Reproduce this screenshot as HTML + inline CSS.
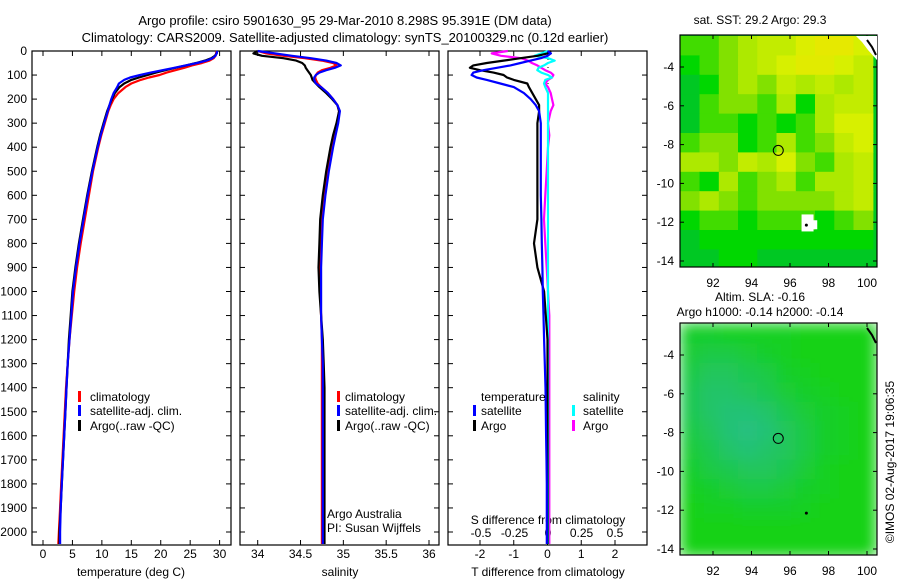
<!DOCTYPE html>
<html><head><meta charset="utf-8"><style>
body{margin:0;background:#fff;}
svg{display:block;font-family:"Liberation Sans",sans-serif;}
</style></head><body>
<svg id="c" width="900" height="580" viewBox="0 0 900 580">
<defs>
<clipPath id="cm1"><rect x="680" y="35" width="197" height="232"/></clipPath>
<clipPath id="cm2"><rect x="680" y="323" width="197" height="232"/></clipPath>
<filter id="bl" x="0" y="0" width="1" height="1"><feGaussianBlur stdDeviation="7" edgeMode="duplicate"/></filter>
</defs>
<text x="345" y="25" font-size="13" text-anchor="middle">Argo profile: csiro 5901630_95 29-Mar-2010 8.298S 95.391E (DM data)</text>
<text x="345" y="42" font-size="13" text-anchor="middle">Climatology: CARS2009. Satellite-adjusted climatology: synTS_20100329.nc (0.12d earlier)</text>
<text x="760" y="24" font-size="12" text-anchor="middle">sat. SST: 29.2 Argo: 29.3</text>
<text x="760" y="301" font-size="12" text-anchor="middle">Altim. SLA: -0.16</text>
<text x="760" y="316" font-size="12" text-anchor="middle">Argo h1000: -0.14 h2000: -0.14</text>
<text transform="translate(894,462) rotate(-90)" font-size="12" text-anchor="middle">©IMOS 02-Aug-2017 19:06:35</text>
<g id="g"></g>
</svg>
<script>
const depths=[0,10,20,30,40,50,60,70,80,90,100,110,120,135,150,175,200,225,250,300,350,400,500,600,700,800,900,1000,1100,1200,1300,1400,1500,1600,1700,1800,1900,2000,2050];
const tempClim=[29.5,29.4,29.3,29.0,28.3,27.0,25.3,24.0,22.5,21.0,19.8,18.0,16.6,15.0,14.0,12.8,12.0,11.5,11.1,10.5,9.9,9.4,8.5,7.8,7.1,6.4,5.8,5.3,4.9,4.5,4.2,3.9,3.7,3.5,3.3,3.1,2.9,2.7,2.6];
const tempSat=[29.6,29.5,29.3,28.8,27.8,26.2,24.2,22.3,20.3,18.3,16.5,14.8,13.8,12.9,12.6,12.0,11.6,11.3,11.0,10.4,9.8,9.3,8.4,7.6,6.9,6.2,5.6,5.1,4.8,4.5,4.2,4.0,3.8,3.6,3.4,3.2,3.0,2.9,2.9];
const tempArgo=[29.6,29.5,29.2,28.6,27.5,26.0,24.3,22.5,20.8,19.2,17.8,16.3,15.0,13.8,13.0,12.2,11.7,11.3,10.9,10.3,9.7,9.2,8.3,7.5,6.8,6.1,5.5,5.0,4.7,4.4,4.2,4.0,3.8,3.6,3.4,3.2,3.0,2.8,2.8];
const salClim=[34.0,34.1,34.3,34.55,34.75,34.88,34.92,34.85,34.75,34.7,34.68,34.67,34.68,34.7,34.74,34.82,34.88,34.93,34.95,34.93,34.9,34.87,34.82,34.78,34.75,34.74,34.73,34.73,34.74,34.75,34.75,34.75,34.75,34.75,34.75,34.75,34.75,34.75,34.75];
const salSat=[34.0,34.2,34.4,34.62,34.8,34.92,34.97,34.9,34.8,34.72,34.68,34.66,34.66,34.68,34.74,34.82,34.88,34.93,34.96,34.94,34.91,34.88,34.83,34.79,34.76,34.75,34.74,34.74,34.74,34.75,34.76,34.76,34.76,34.76,34.76,34.76,34.76,34.76,34.76];
const salArgo=[34.0,33.95,34.05,34.3,34.45,34.52,34.55,34.56,34.58,34.6,34.62,34.63,34.64,34.68,34.72,34.8,34.87,34.93,34.95,34.92,34.88,34.85,34.8,34.76,34.73,34.72,34.71,34.72,34.74,34.76,34.77,34.78,34.78,34.78,34.78,34.78,34.78,34.78,34.78];
const tdiffSat=[0,0.1,0,-0.2,-0.5,-0.8,-1.1,-1.5,-1.9,-2.2,-2.25,-2.1,-1.8,-1.4,-1.0,-0.7,-0.5,-0.35,-0.25,-0.2,-0.2,-0.2,-0.2,-0.2,-0.18,-0.17,-0.15,-0.14,-0.12,-0.1,-0.08,-0.06,-0.05,-0.04,-0.03,-0.02,-0.02,-0.02,-0.02];
const tdiffArgo=[0.1,0,-0.3,-0.8,-1.3,-1.8,-2.2,-2.3,-2.0,-1.6,-1.3,-1.2,-1.0,-0.6,-0.55,-0.45,-0.35,-0.25,-0.25,-0.3,-0.3,-0.3,-0.3,-0.3,-0.3,-0.4,-0.3,-0.1,-0.05,0,0,0,0,0,0,0,0,0,0];
const sdiffSat=[0,-0.05,-0.1,0,0.05,0,-0.03,-0.07,-0.08,-0.05,0,0.03,-0.02,-0.03,-0.02,0,0,0,0,0,0,0,0,0,0,0,0,0,0,0,0,0,0,0,0,0,0,0,0];
const sdiffArgo=[-0.3,-0.42,-0.35,-0.2,-0.15,-0.12,-0.08,-0.05,-0.02,0.02,0.04,0.03,0,-0.02,0,0.02,0.03,0.04,0.02,0,0.01,0,-0.01,-0.02,-0.03,-0.02,-0.01,0,0.01,0.01,0.01,0.01,0.01,0.01,0.01,0.01,0.01,0.01,0.01];
const depthTicks=[0,100,200,300,400,500,600,700,800,900,1000,1100,1200,1300,1400,1500,1600,1700,1800,1900,2000];
const tempTicks=[0,5,10,15,20,25,30];
const salTicks=["34","34.5","35","35.5","36"];
const tdTicks=["-2","-1","0","1","2"];
const sdTicks=["-0.5","-0.25","0","0.25","0.5"];
const lonTicks=[92,94,96,98,100];
const latTicks=[-4,-6,-8,-10,-12,-14];
const sstGrid=[
[0.3,0.3,0.4,0.5,0.55,0.55,0.65,0.75,0.75,0.6],
[0.2,0.3,0.4,0.5,0.55,0.6,0.7,0.7,0.6,0.55],
[0.1,0.2,0.4,0.5,0.4,0.55,0.5,0.55,0.5,0.55],
[0.1,0.3,0.4,0.4,0.3,0.5,0.2,0.5,0.55,0.55],
[0.1,0.3,0.3,0.2,0.3,0.2,0.3,0.5,0.6,0.6],
[0.3,0.4,0.4,0.2,0.3,0.5,0.3,0.4,0.55,0.6],
[0.5,0.5,0.4,0.55,0.5,0.6,0.4,0.3,0.5,0.55],
[0.3,0.2,0.5,0.3,0.4,0.5,0.3,0.5,0.5,0.55],
[0.4,0.5,0.4,0.3,0.4,0.4,0.4,0.4,0.5,0.55],
[0.2,0.3,0.3,0.2,0.3,0.3,0.3,0.2,0.3,0.4],
[0.1,0.2,0.2,0.2,0.2,0.2,0.2,0.2,0.2,0.2],
[0.1,0.1,0.2,0.2,0.1,0.1,0.1,0.1,0.1,0.1]];
const slaGrid=[
[0.8,0.8,0.9,0.9,0.9,0.9,1,1,1,1],
[0.7,0.6,0.6,0.7,0.8,0.9,1,1,1,1],
[0.6,0.4,0.4,0.5,0.6,0.8,0.9,1,1,1],
[0.5,0.3,0.3,0.4,0.5,0.7,0.8,0.9,1,1],
[0.5,0.3,0.2,0.2,0.3,0.5,0.7,0.8,0.9,1],
[0.6,0.4,0.2,0.1,0.2,0.4,0.6,0.8,0.9,1],
[0.7,0.5,0.3,0.2,0.3,0.4,0.6,0.8,0.9,1],
[0.8,0.6,0.5,0.4,0.4,0.5,0.7,0.9,1,1],
[0.9,0.8,0.7,0.6,0.6,0.7,0.8,0.9,1,1],
[1,0.9,0.9,0.8,0.8,0.8,0.9,1,1,1],
[1,1,1,1,1,1,1,1,1,1],
[1,1,1,1,1,1,1,1,1,1]];
const argoLon=95.391, argoLat=-8.298;

const NS='http://www.w3.org/2000/svg';
const G=document.getElementById('g');
function el(t,a,p){const e=document.createElementNS(NS,t);for(const k in a)e.setAttribute(k,a[k]);(p||G).appendChild(e);return e;}
const yTop=51, yBot=545;
const yD=d=>yTop+d*0.2405;
function lin(d0,d1,r0,r1){return v=>r0+(v-d0)*(r1-r0)/(d1-d0);}
const xT=lin(0,30,43,219.6), xS=lin(34,36,257.7,429), xTD=lin(-2,2,480,615), xSD=lin(-0.5,0.5,481,615);

function panel(x0,x1,name){
  const r=el('rect',{x:x0,y:yTop,width:x1-x0,height:yBot-yTop,fill:'#fff',stroke:'#000','stroke-width':1.2});
  
  
  depthTicks.forEach(d=>{
    el('line',{x1:x0,x2:x0+5,y1:yD(d),y2:yD(d),stroke:'#000'});
    el('line',{x1:x1-5,x2:x1,y1:yD(d),y2:yD(d),stroke:'#000'});
  });
}
function xticks(vals,sc,y,name){
  vals.forEach(v=>{const x=sc(+v);
    el('line',{x1:x,x2:x,y1:yBot,y2:yBot-5,stroke:'#000'});
    el('line',{x1:x,x2:x,y1:yTop,y2:yTop+5,stroke:'#000'});
    const t=el('text',{x:x,y:y,'font-size':12,'text-anchor':'middle'});t.textContent=v;
    
    
  });
}
function line(xs,sc,col,name){
  const pts=depths.map((d,i)=>sc(xs[i]).toFixed(1)+','+yD(d).toFixed(1)).join(' ');
  const p=el('polyline',{points:pts,fill:'none',stroke:col,'stroke-width':2.2,'stroke-linejoin':'round'});
  
  
}
function txt(x,y,s,name,anchor){const t=el('text',{x:x,y:y,'font-size':12,'text-anchor':anchor||'start'});t.textContent=s;
  
  return t;}
function legbar(x,y,col){el('rect',{x:x,y:y-10,width:3,height:11,fill:col});}

// panel 1 temperature
panel(32,231,'temperature-panel');
depthTicks.forEach(d=>{txt(27,yD(d)+4,String(d),'depth-tick-label','end');});
xticks(tempTicks,xT,558,'temperature-tick-label');
txt(131,576,'temperature (deg C)','temperature-axis-title','middle');
line(tempClim,xT,'#f00','temperature-climatology-line');
line(tempArgo,xT,'#000','temperature-argo-line');
line(tempSat,xT,'#00f','temperature-satellite-line');
legbar(78,401,'#f00');txt(90,401,'climatology','legend-climatology');
legbar(78,415,'#00f');txt(90,415,'satellite-adj. clim.','legend-satellite');
legbar(78,430,'#000');txt(90,430,'Argo(..raw -QC)','legend-argo');

// panel 2 salinity
panel(240,439,'salinity-panel');
xticks(salTicks,xS,558,'salinity-tick-label');
txt(340,576,'salinity','salinity-axis-title','middle');
line(salClim,xS,'#f00','salinity-climatology-line');
line(salArgo,xS,'#000','salinity-argo-line');
line(salSat,xS,'#00f','salinity-satellite-line');
legbar(337,401,'#f00');txt(345,401,'climatology','legend-climatology');
legbar(337,415,'#00f');txt(345,415,'satellite-adj. clim.','legend-satellite');
legbar(337,430,'#000');txt(345,430,'Argo(..raw -QC)','legend-argo');
txt(327,518,'Argo Australia','argo-australia-label');
txt(327,532,'PI: Susan Wijffels','pi-label');

// panel 3 differences
panel(448,647,'difference-panel');
xticks(tdTicks,xTD,558,'t-diff-tick-label');
sdTicks.forEach(v=>{txt(xSD(+v),537,v,'s-diff-tick-label','middle');});
txt(548,524,'S difference from climatology','s-diff-axis-title','middle');
txt(548,576,'T difference from climatology','t-diff-axis-title','middle');
el('line',{x1:548,x2:548,y1:yTop,y2:yD(300),stroke:'#000','stroke-dasharray':'1,3'});
line(sdiffArgo,xSD,'#f0f','salinity-diff-argo-line');
line(sdiffSat,xSD,'#0ff','salinity-diff-satellite-line');
line(tdiffArgo,xTD,'#000','temperature-diff-argo-line');
line(tdiffSat,xTD,'#00f','temperature-diff-satellite-line');
txt(481,401,'temperature','legend-temperature-header');
txt(583,401,'salinity','legend-salinity-header');
legbar(473,415,'#00f');txt(481,415,'satellite','legend-t-satellite');
legbar(473,430,'#000');txt(481,430,'Argo','legend-t-argo');
legbar(572,415,'#0ff');txt(583,415,'satellite','legend-s-satellite');
legbar(572,430,'#f0f');txt(583,430,'Argo','legend-s-argo');

// maps
const xL=lin(92,100,713,867);
function mapFrame(y0,grid,colf,name,clip,blur){
  const yL=v=>y0+32+(-4-v)*19.4;
  const g=el('g',{'clip-path':'url(#'+clip+')'});
  
  
  const inner=el('g',blur?{filter:'url(#bl)'}:{},g);
  el('rect',{x:680,y:y0,width:197,height:232,fill:colf(grid[11][9])},inner);
  grid.forEach((row,r)=>row.forEach((v,c)=>{
    const lon0=90.3+c, lat0=-2.4-r;
    el('rect',{x:xL(lon0).toFixed(1),y:yL(lat0).toFixed(1),width:(xL(lon0+1)-xL(lon0)+0.6).toFixed(1),height:20,fill:colf(v)},inner);
  }));
  el('rect',{x:680,y:y0,width:197,height:232,fill:'none',stroke:'#000','stroke-width':1.2});
  lonTicks.forEach(v=>{const x=xL(v);
    el('line',{x1:x,x2:x,y1:y0,y2:y0+4,stroke:'#000'});
    el('line',{x1:x,x2:x,y1:y0+232,y2:y0+228,stroke:'#000'});
    txt(x,y0+252,String(v),'longitude-tick-label','middle');});
  latTicks.forEach(v=>{const y=yL(v);
    el('line',{x1:680,x2:684,y1:y,y2:y,stroke:'#000'});
    el('line',{x1:877,x2:873,y1:y,y2:y,stroke:'#000'});
    txt(674,y+4,String(v),'latitude-tick-label','end');});
  const c=el('circle',{cx:xL(argoLon),cy:yL(argoLat),r:5,fill:'none',stroke:'#000','stroke-width':1});
  
  
  el('circle',{cx:xL(96.85),cy:yL(-12.15),r:1.5,fill:'#000'});
  return yL;
}
function mix(a,b,t){return a.map((v,i)=>Math.round(v+(b[i]-v)*t));}
const sstStops=[[0,[0,185,70]],[0.2,[0,215,0]],[0.4,[130,225,0]],[0.6,[215,240,0]],[0.8,[235,230,0]],[1,[240,205,0]]];
function sstCol(v){for(let i=1;i<sstStops.length;i++){if(v<=sstStops[i][0]){const a=sstStops[i-1],b=sstStops[i];const c=mix(a[1],b[1],(v-a[0])/(b[0]-a[0]));return 'rgb('+c+')';}}return 'rgb(240,205,0)';}
function slaCol(v){const c=mix([40,190,140],[20,210,20],v);return 'rgb('+c+')';}
const yL1=mapFrame(35,sstGrid,sstCol,'sst-map','cm1',false);
el('polygon',{points:'856,36 877,36 877,60 868,50 862,42',fill:'#fff'});
el('rect',{x:xL(96.6),y:yL1(-11.6),width:12,height:17,fill:'#fff'});
el('rect',{x:xL(97.0),y:yL1(-11.9),width:8,height:9,fill:'#fff'});
el('circle',{cx:xL(96.85),cy:yL1(-12.15),r:1.5,fill:'#000'});
el('polyline',{points:'867,40 872,47 876,55',fill:'none',stroke:'#000','stroke-width':2});
mapFrame(323,slaGrid,slaCol,'sla-map','cm2',true);
el('polyline',{points:'867,328 872,335 876,343',fill:'none',stroke:'#000','stroke-width':2});
</script>
</body></html>
